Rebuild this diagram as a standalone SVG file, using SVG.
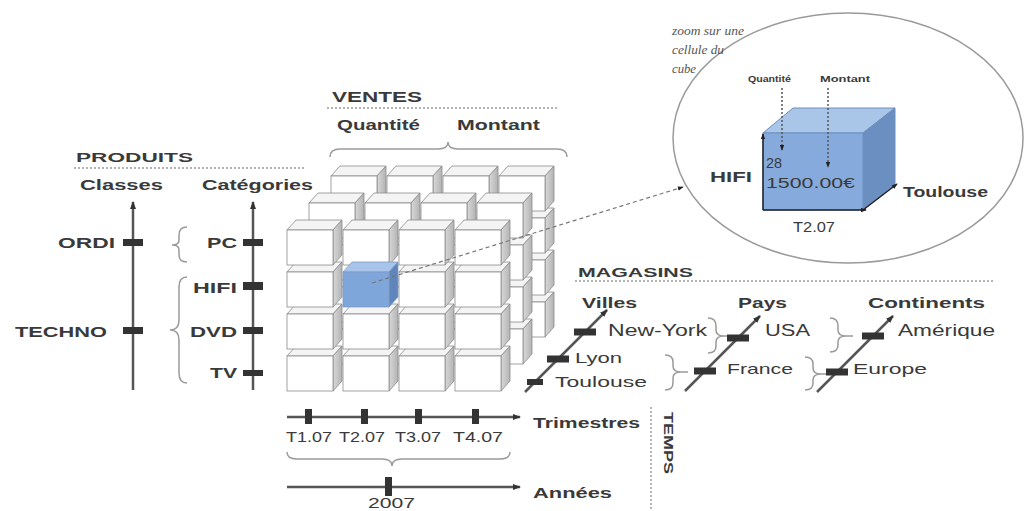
<svg xmlns="http://www.w3.org/2000/svg" xmlns:xlink="http://www.w3.org/1999/xlink" width="1024" height="511" viewBox="0 0 1024 511">
<style>
.b{font-family:"Liberation Sans",Arial,sans-serif;font-weight:bold;fill:#3a3a3a}
.r{font-family:"Liberation Sans",Arial,sans-serif;fill:#3a3a3a}
.i{font-family:"Liberation Serif","Times New Roman",serif;font-style:italic;fill:#555}
.ax{stroke:#555;stroke-width:2.5;fill:none}
.tk{fill:#333}
.br{stroke:#9a9a9a;stroke-width:1.5;fill:none}
.dot{stroke:#9a9a9a;stroke-width:1.5;stroke-dasharray:2 2;fill:none}
.fe{stroke:#8a8a8a;stroke-width:0.8}
</style>
<defs>
<linearGradient id="sg" x1="0" y1="0" x2="1" y2="0"><stop offset="0" stop-color="#d9d9d9"/><stop offset="1" stop-color="#b3b3b3"/></linearGradient>
<marker id="a" viewBox="0 0 8 6" refX="7" refY="3" markerWidth="8" markerHeight="6" markerUnits="userSpaceOnUse" orient="auto"><path d="M0,0 L8,3 L0,6 z" fill="#333"/></marker>
<marker id="as" viewBox="0 0 8 6" refX="7" refY="3" markerWidth="6" markerHeight="5" markerUnits="userSpaceOnUse" orient="auto"><path d="M0,0 L8,3 L0,6 z" fill="#222"/></marker>
<g id="c">
<polygon class="fe" points="0,0 9,-10 55,-10 46,0" fill="#f4f4f4"/>
<polygon class="fe" points="46,0 55,-10 55,25 46,35" fill="url(#sg)"/>
<rect class="fe" width="46" height="35" fill="#fff"/>
</g>
</defs>
<rect width="1024" height="511" fill="#fff"/>

<g id="produits">
<text class="b" x="76" y="162" font-size="13" textLength="117" lengthAdjust="spacingAndGlyphs">PRODUITS</text>
<line class="dot" x1="74" y1="168" x2="305" y2="168"/>
<text class="b" x="80" y="190" font-size="15" textLength="83" lengthAdjust="spacingAndGlyphs">Classes</text>
<text class="b" x="202" y="190" font-size="15" textLength="111" lengthAdjust="spacingAndGlyphs">Catégories</text>
</g>

<g id="classes-axis">
<line class="ax" x1="133" y1="390" x2="133" y2="202" marker-end="url(#a)"/>
<rect class="tk" x="123" y="239" width="20" height="7"/>
<rect class="tk" x="123" y="327" width="20" height="7"/>
<text class="b" x="58" y="248" font-size="15" textLength="57" lengthAdjust="spacingAndGlyphs">ORDI</text>
<text class="b" x="15" y="337" font-size="15" textLength="92" lengthAdjust="spacingAndGlyphs">TECHNO</text>
</g>

<g id="categories-axis">
<line class="ax" x1="253" y1="390" x2="253" y2="202" marker-end="url(#a)"/>
<rect class="tk" x="243" y="239" width="20" height="7"/>
<rect class="tk" x="243" y="282" width="20" height="8"/>
<rect class="tk" x="243" y="327" width="20" height="7"/>
<rect class="tk" x="243" y="370" width="20" height="6"/>
<text class="b" x="207" y="248" font-size="15" textLength="30" lengthAdjust="spacingAndGlyphs">PC</text>
<text class="b" x="193" y="293" font-size="15" textLength="44" lengthAdjust="spacingAndGlyphs">HIFI</text>
<text class="b" x="190" y="337" font-size="15" textLength="47" lengthAdjust="spacingAndGlyphs">DVD</text>
<text class="b" x="210" y="378" font-size="15" textLength="27" lengthAdjust="spacingAndGlyphs">TV</text>
<path class="br" d="M187,227 Q179,227 179,235 L179,240 Q179,245 172,245 Q179,245 179,250 L179,255 Q179,262 187,262"/>
<path class="br" d="M187,277 Q179,277 179,287 L179,320 Q179,330 170,330 Q179,330 179,340 L179,373 Q179,383 187,383"/>
</g>

<g id="ventes">
<text class="b" x="332" y="102" font-size="15" textLength="90" lengthAdjust="spacingAndGlyphs">VENTES</text>
<line class="dot" x1="327" y1="108" x2="557" y2="108"/>
<text class="b" x="337" y="130" font-size="15" textLength="83" lengthAdjust="spacingAndGlyphs">Quantité</text>
<text class="b" x="457" y="130" font-size="15" textLength="83" lengthAdjust="spacingAndGlyphs">Montant</text>
<path class="br" d="M330,157 Q330,149 340,149 L438,149 Q448,149 448,142 Q448,149 458,149 L557,149 Q567,149 567,157"/>
</g>

<g id="cube">
<use xlink:href="#c" x="331" y="302"/><use xlink:href="#c" x="387" y="302"/><use xlink:href="#c" x="443" y="302"/><use xlink:href="#c" x="499" y="302"/>
<use xlink:href="#c" x="331" y="260"/><use xlink:href="#c" x="387" y="260"/><use xlink:href="#c" x="443" y="260"/><use xlink:href="#c" x="499" y="260"/>
<use xlink:href="#c" x="331" y="218"/><use xlink:href="#c" x="387" y="218"/><use xlink:href="#c" x="443" y="218"/><use xlink:href="#c" x="499" y="218"/>
<use xlink:href="#c" x="331" y="176"/><use xlink:href="#c" x="387" y="176"/><use xlink:href="#c" x="443" y="176"/><use xlink:href="#c" x="499" y="176"/>
<use xlink:href="#c" x="309" y="329"/><use xlink:href="#c" x="365" y="329"/><use xlink:href="#c" x="421" y="329"/><use xlink:href="#c" x="477" y="329"/>
<use xlink:href="#c" x="309" y="287"/><use xlink:href="#c" x="365" y="287"/><use xlink:href="#c" x="421" y="287"/><use xlink:href="#c" x="477" y="287"/>
<use xlink:href="#c" x="309" y="245"/><use xlink:href="#c" x="365" y="245"/><use xlink:href="#c" x="421" y="245"/><use xlink:href="#c" x="477" y="245"/>
<use xlink:href="#c" x="309" y="203"/><use xlink:href="#c" x="365" y="203"/><use xlink:href="#c" x="421" y="203"/><use xlink:href="#c" x="477" y="203"/>
<use xlink:href="#c" x="287" y="356"/><use xlink:href="#c" x="343" y="356"/><use xlink:href="#c" x="399" y="356"/><use xlink:href="#c" x="455" y="356"/>
<use xlink:href="#c" x="287" y="314"/><use xlink:href="#c" x="343" y="314"/><use xlink:href="#c" x="399" y="314"/><use xlink:href="#c" x="455" y="314"/>
<use xlink:href="#c" x="287" y="272"/><use xlink:href="#c" x="399" y="272"/><use xlink:href="#c" x="455" y="272"/>
<use xlink:href="#c" x="287" y="230"/><use xlink:href="#c" x="343" y="230"/><use xlink:href="#c" x="399" y="230"/><use xlink:href="#c" x="455" y="230"/>
<g id="cell-blue">
<polygon points="343,272 352,262 398,262 389,272" fill="#a8c4e8" stroke="#7f9cc4" stroke-width="0.8"/>
<polygon points="389,272 398,262 398,297 389,307" fill="#5f86ba" stroke="#7f9cc4" stroke-width="0.8"/>
<rect x="343" y="272" width="46" height="35" fill="#7fa6da" stroke="#7f9cc4" stroke-width="0.8"/>
</g>
</g>

<g id="temps">
<line class="ax" x1="287" y1="417" x2="520" y2="417" marker-end="url(#a)"/>
<rect class="tk" x="305" y="409" width="7" height="15"/>
<rect class="tk" x="361" y="409" width="7" height="15"/>
<rect class="tk" x="415" y="409" width="7" height="15"/>
<rect class="tk" x="472" y="409" width="7" height="15"/>
<text class="r" x="309" y="442" font-size="15" text-anchor="middle" textLength="46" lengthAdjust="spacingAndGlyphs">T1.07</text>
<text class="r" x="362" y="442" font-size="15" text-anchor="middle" textLength="46" lengthAdjust="spacingAndGlyphs">T2.07</text>
<text class="r" x="418" y="442" font-size="15" text-anchor="middle" textLength="46" lengthAdjust="spacingAndGlyphs">T3.07</text>
<text class="r" x="478" y="442" font-size="15" text-anchor="middle" textLength="50" lengthAdjust="spacingAndGlyphs">T4.07</text>
<text class="b" x="533" y="428" font-size="14" textLength="107" lengthAdjust="spacingAndGlyphs">Trimestres</text>
<path class="br" d="M287,452 Q287,459 297,459 L382,459 Q392,459 392,466 Q392,459 402,459 L500,459 Q510,459 510,452"/>
<line class="ax" x1="287" y1="487" x2="520" y2="487" marker-end="url(#a)"/>
<rect class="tk" x="385" y="477" width="7" height="19"/>
<text class="r" x="368" y="508" font-size="15" textLength="47" lengthAdjust="spacingAndGlyphs">2007</text>
<text class="b" x="533" y="498" font-size="15" textLength="79" lengthAdjust="spacingAndGlyphs">Années</text>
<line class="dot" x1="651" y1="407" x2="651" y2="511"/>
<text class="b" x="0" y="0" font-size="13" textLength="62" lengthAdjust="spacingAndGlyphs" transform="translate(664,412) rotate(90)">TEMPS</text>
</g>

<g id="magasins">
<text class="b" x="578" y="277" font-size="12" textLength="115" lengthAdjust="spacingAndGlyphs">MAGASINS</text>
<line class="dot" x1="575" y1="281" x2="993" y2="281"/>
<text class="b" x="582" y="308" font-size="14" textLength="55" lengthAdjust="spacingAndGlyphs">Villes</text>
<text class="b" x="738" y="308" font-size="14" textLength="49" lengthAdjust="spacingAndGlyphs">Pays</text>
<text class="b" x="868" y="308" font-size="14" textLength="117" lengthAdjust="spacingAndGlyphs">Continents</text>
</g>

<g id="villes-axis">
<line class="ax" stroke-width="2" x1="525" y1="392" x2="607" y2="310" marker-end="url(#a)"/>
<rect class="tk" x="574" y="328.5" width="22" height="7"/>
<rect class="tk" x="547" y="355.5" width="22" height="7"/>
<rect class="tk" x="527" y="379" width="16" height="6"/>
<text class="r" x="608" y="336" font-size="16" textLength="99" lengthAdjust="spacingAndGlyphs">New-York</text>
<text class="r" x="575" y="363" font-size="15" textLength="47" lengthAdjust="spacingAndGlyphs">Lyon</text>
<text class="r" x="555" y="387" font-size="15" textLength="92" lengthAdjust="spacingAndGlyphs">Toulouse</text>
<path class="br" d="M708,318 Q716,318 716,326 L716,330 Q716,336 724,336 L731,336 M724,336 Q716,336 716,342 L716,346 Q716,353 708,353"/>
<path class="br" d="M665,355 Q673,355 673,362 L673,366 Q673,372 681,372 L688,372 M681,372 Q673,372 673,378 L673,383 Q673,390 665,390"/>
</g>

<g id="pays-axis">
<line class="ax" stroke-width="2" x1="685" y1="391" x2="760" y2="316" marker-end="url(#a)"/>
<rect class="tk" x="727" y="334.5" width="22" height="7"/>
<rect class="tk" x="694" y="367.5" width="22" height="7"/>
<text class="r" x="765" y="336" font-size="16" textLength="45" lengthAdjust="spacingAndGlyphs">USA</text>
<text class="r" x="727" y="374" font-size="15" textLength="66" lengthAdjust="spacingAndGlyphs">France</text>
<path class="br" d="M830,318 Q838,318 838,326 L838,330 Q838,336 846,336 L853,336 M846,336 Q838,336 838,342 L838,345 Q838,352 830,352"/>
<path class="br" d="M805,357 Q813,357 813,364 L813,368 Q813,374 821,374 L828,374 M821,374 Q813,374 813,380 L813,383 Q813,390 805,390"/>
</g>

<g id="continents-axis">
<line class="ax" stroke-width="2" x1="817" y1="392" x2="893" y2="316" marker-end="url(#a)"/>
<rect class="tk" x="862" y="332.5" width="22" height="7"/>
<rect class="tk" x="826" y="368.5" width="22" height="7"/>
<text class="r" x="898" y="336" font-size="16" textLength="97" lengthAdjust="spacingAndGlyphs">Amérique</text>
<text class="r" x="853" y="374" font-size="15" textLength="74" lengthAdjust="spacingAndGlyphs">Europe</text>
</g>

<g id="zoom">
<ellipse cx="848" cy="138" rx="175" ry="125" fill="none" stroke="#9a9a9a" stroke-width="1.5"/>
<text class="i" x="672" y="35" font-size="12" textLength="72" lengthAdjust="spacingAndGlyphs">zoom sur une</text>
<text class="i" x="672" y="54" font-size="12" textLength="52" lengthAdjust="spacingAndGlyphs">cellule du</text>
<text class="i" x="672" y="73" font-size="12" textLength="24" lengthAdjust="spacingAndGlyphs">cube</text>
<polygon points="763,133 793,108 895,108 863,133" fill="#a9c5e8" stroke="#6d8fbf" stroke-width="1"/>
<polygon points="863,133 895,108 895,185 863,210" fill="#6a8fc0" stroke="#6d8fbf" stroke-width="1"/>
<rect x="763" y="133" width="100" height="77" fill="#86aadb" stroke="#6d8fbf" stroke-width="1"/>
<text class="b" x="748" y="82" font-size="9" textLength="43" lengthAdjust="spacingAndGlyphs">Quantité</text>
<text class="b" x="820" y="82" font-size="9" textLength="50" lengthAdjust="spacingAndGlyphs">Montant</text>
<line x1="782" y1="88" x2="782" y2="150" stroke="#555" stroke-width="1.5" stroke-dasharray="2 2" marker-end="url(#as)"/>
<line x1="828" y1="88" x2="828" y2="167" stroke="#555" stroke-width="1.5" stroke-dasharray="2 2" marker-end="url(#as)"/>
<line x1="763" y1="210" x2="763" y2="134" stroke="#222" stroke-width="1.5" marker-end="url(#as)"/>
<line x1="763" y1="210" x2="866" y2="210" stroke="#222" stroke-width="1.5" marker-end="url(#as)"/>
<line x1="863" y1="210" x2="897" y2="184" stroke="#222" stroke-width="1.5" marker-end="url(#as)"/>
<text class="r" x="766" y="168" font-size="15" textLength="16" lengthAdjust="spacingAndGlyphs">28</text>
<text class="r" x="766" y="188" font-size="15" textLength="89" lengthAdjust="spacingAndGlyphs">1500.00€</text>
<text class="b" x="710" y="182" font-size="15" textLength="42" lengthAdjust="spacingAndGlyphs">HIFI</text>
<text class="r" x="793" y="232" font-size="15" textLength="42" lengthAdjust="spacingAndGlyphs">T2.07</text>
<text class="b" x="903" y="197" font-size="14" textLength="85" lengthAdjust="spacingAndGlyphs">Toulouse</text>
</g>

<g id="connectors">
<line x1="372" y1="283" x2="683" y2="187" stroke="#777" stroke-width="1.2" stroke-dasharray="4 3" marker-end="url(#as)"/>
</g>
</svg>
